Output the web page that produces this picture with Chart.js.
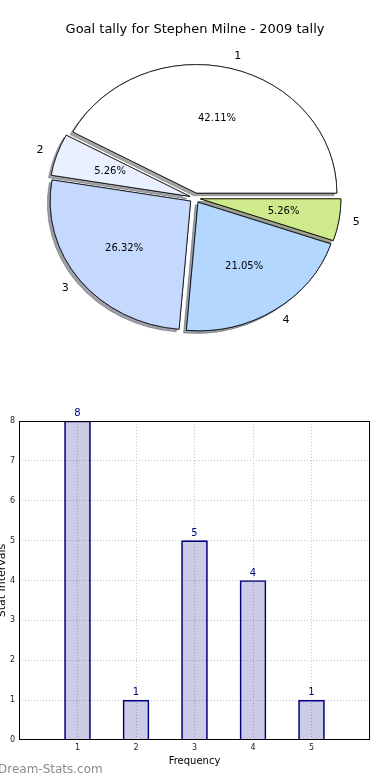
<!DOCTYPE html>
<html>
<head>
<meta charset="utf-8">
<script src="https://cdn.jsdelivr.net/npm/chart.js@4/dist/chart.umd.min.js"></script>
<style>
body { margin: 0; background: #fff; width: 390px; height: 780px; overflow: hidden; position: relative; }
#pie { position: absolute; left: 0; top: 0; }
#bars { position: absolute; left: 0; top: 390px; }
#mark { position: absolute; left: -2px; top: 762px; font: 12px "DejaVu Sans"; color: #8c8c8c; }
</style>
</head>
<body>
<canvas id="pie" width="390" height="390"></canvas>
<canvas id="bars" width="390" height="390"></canvas>
<div id="mark">Dream-Stats.com</div>
<script>
var categories = ['1', '2', '3', '4', '5'];
var tally = [8, 1, 5, 4, 1];
var yMin = 0, yMax = 8;
var xMin = 0, xMax = 6;

var sliceColors = ['#ffffff', '#e9f0ff', '#c5d9ff', '#b4d7ff', '#cfea8a'];
var EXPLODE = 5.5;
var SQUASH = 0.915;
var GRID = '#c4c4c4';

Chart.defaults.font.family = '"DejaVu Sans"';
Chart.defaults.color = '#000';
Chart.defaults.animation = false;

var total = tally.reduce(function (a, b) { return a + b; }, 0);

function shade(hex) {
  var r = parseInt(hex.substr(1, 2), 16), g = parseInt(hex.substr(3, 2), 16), b = parseInt(hex.substr(5, 2), 16);
  return 'rgba(' + Math.round(r * 0.3) + ',' + Math.round(g * 0.3) + ',' + Math.round(b * 0.3) + ',0.5)';
}

// chart.js goes clockwise, the reference goes counter-clockwise from 3 o'clock
var pieLabels = categories.slice().reverse();
var pieValues = tally.slice().reverse();
var pieColors = sliceColors.slice().reverse();

var piePlugin = {
  id: 'piePlugin',
  beforeDatasetsDraw: function (chart) {
    var ctx = chart.ctx;
    var arcs = chart.getDatasetMeta(0).data;
    var cy = arcs[0].y;
    ctx.save();
    ctx.translate(0, cy);
    ctx.scale(1, SQUASH);
    ctx.translate(0, -cy);
    // shadows first, then the wedges
    for (var pass = 0; pass < 2; pass++) {
      arcs.forEach(function (arc, i) {
        var mid = (arc.startAngle + arc.endAngle) / 2;
        ctx.save();
        ctx.translate(Math.cos(mid) * EXPLODE, Math.sin(mid) * EXPLODE);
        if (pass === 0) {
          ctx.shadowColor = shade(pieColors[i]);
          ctx.shadowOffsetX = -2.8;
          ctx.shadowOffsetY = 2.6;
          ctx.shadowBlur = 0;
        }
        arc.draw(ctx);
        ctx.restore();
      });
    }
    ctx.restore();
    return false;
  },
  afterDraw: function (chart) {
    var ctx = chart.ctx;
    var arcs = chart.getDatasetMeta(0).data;
    ctx.save();
    arcs.forEach(function (arc, i) {
      var mid = (arc.startAngle + arc.endAngle) / 2;
      var c = Math.cos(mid), s = Math.sin(mid);
      var r = arc.outerRadius;
      ctx.textBaseline = 'middle';
      ctx.fillStyle = '#000';
      ctx.font = '10px "DejaVu Sans"';
      ctx.textAlign = 'center';
      var d = EXPLODE + 0.6 * r;
      ctx.fillText((pieValues[i] / total * 100).toFixed(2) + '%', arc.x + c * d, arc.y + s * d * SQUASH);
      d = EXPLODE + 1.1 * r;
      ctx.font = '11px "DejaVu Sans"';
      ctx.textAlign = c >= 0 ? 'left' : 'right';
      ctx.fillText(pieLabels[i], arc.x + c * d, arc.y + s * d * SQUASH);
    });
    ctx.restore();
  }
};

new Chart(document.getElementById('pie'), {
  type: 'pie',
  data: {
    labels: pieLabels,
    datasets: [{
      data: pieValues,
      backgroundColor: pieColors,
      borderColor: '#000',
      borderWidth: 0.8
    }]
  },
  options: {
    responsive: false,
    rotation: 90,
    radius: 140.5,
    layout: { padding: { top: 0, bottom: 31.6, left: 0, right: 0 } },
    plugins: {
      legend: { display: false },
      tooltip: { enabled: false },
      title: {
        display: true,
        text: 'Goal tally for Stephen Milne - 2009 tally',
        font: { size: 13, weight: 'normal' },
        color: '#000',
        padding: { top: 22, bottom: 0 }
      }
    }
  },
  plugins: [piePlugin]
});

var barPlugin = {
  id: 'barPlugin',
  afterDraw: function (chart) {
    var ctx = chart.ctx;
    var a = chart.chartArea;
    ctx.save();
    ctx.strokeStyle = '#000';
    ctx.lineWidth = 1;
    ctx.strokeRect(Math.round(a.left) + 0.5, Math.round(a.top) + 0.5, Math.round(a.right - a.left) - 1, Math.round(a.bottom - a.top) - 1);
    ctx.fillStyle = '#000080';
    ctx.font = '10px "DejaVu Sans"';
    ctx.textAlign = 'center';
    ctx.textBaseline = 'alphabetic';
    chart.getDatasetMeta(0).data.forEach(function (bar, i) {
      ctx.fillText(String(tally[i]), bar.x, bar.y - 5);
    });
    ctx.restore();
  }
};

function edgeGrid(min, max) {
  return function (c) {
    return (c.tick.value === min || c.tick.value === max) ? 'rgba(0,0,0,0)' : GRID;
  };
}

new Chart(document.getElementById('bars'), {
  type: 'bar',
  data: {
    datasets: [{
      data: categories.map(function (c, i) { return { x: Number(c), y: tally[i] }; }),
      backgroundColor: 'rgba(0,0,128,0.2)',
      borderColor: '#000080',
      borderWidth: 1,
      barThickness: 26
    }]
  },
  options: {
    responsive: false,
    layout: { padding: { top: 31, right: 20, left: 0, bottom: 0 } },
    plugins: { legend: { display: false }, tooltip: { enabled: false } },
    scales: {
      x: {
        type: 'linear',
        min: xMin,
        max: xMax,
        offset: false,
        grid: { offset: false, color: edgeGrid(xMin, xMax), drawTicks: false, lineWidth: 1 },
        border: { display: false, dash: [1, 2] },
        ticks: {
          stepSize: 1,
          padding: 3,
          color: '#222',
          font: { size: 8 },
          maxRotation: 0,
          callback: function (v) { return (v === xMin || v === xMax) ? '' : String(v); }
        },
        title: { display: true, text: 'Frequency', font: { size: 10 }, color: '#000', padding: { top: 0, bottom: 13 } },
        afterFit: function (s) { s.height = 40; }
      },
      y: {
        min: yMin,
        max: yMax,
        grid: { color: edgeGrid(yMin, yMax), drawTicks: false, lineWidth: 1 },
        border: { display: false, dash: [1, 2] },
        ticks: { stepSize: 1, padding: 4, color: '#222', font: { size: 8 } },
        title: { display: true, text: 'Stat Intervals', font: { size: 11 }, color: '#000', padding: { top: -4, bottom: 0 } },
        afterFit: function (s) { s.width = 19; }
      }
    }
  },
  plugins: [barPlugin]
});
</script>
</body>
</html>
